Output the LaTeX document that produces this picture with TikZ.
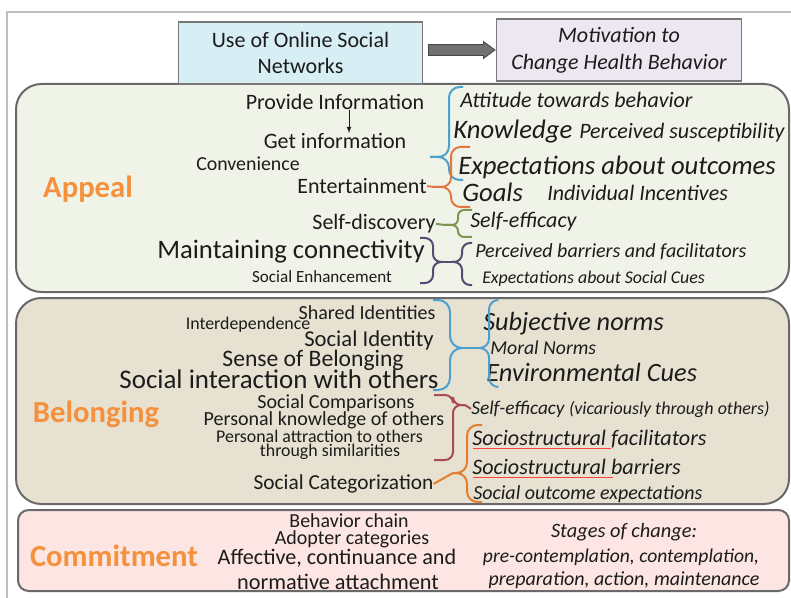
\documentclass[tikz,border=0pt]{standalone}
\usepackage{fontspec}
\setmainfont{Carlito}
\usetikzlibrary{calc}

\definecolor{ink}{RGB}{28,28,28}
\definecolor{tagorange}{RGB}{245,145,60}
\definecolor{edge}{RGB}{105,105,105}
\definecolor{boxedge}{RGB}{120,120,120}
\definecolor{framegray}{RGB}{190,190,190}
\definecolor{appealfill}{RGB}{240,243,231}
\definecolor{belongfill}{RGB}{231,225,210}
\definecolor{commitfill}{RGB}{252,229,226}
\definecolor{usefill}{RGB}{215,238,244}
\definecolor{motivfill}{RGB}{236,231,240}
\definecolor{arrowfill}{RGB}{112,112,112}
\definecolor{arrowedge}{RGB}{70,70,70}
\definecolor{bblue}{RGB}{75,160,205}
\definecolor{borange}{RGB}{225,120,65}
\definecolor{bgreen}{RGB}{125,150,85}
\definecolor{bpurple}{RGB}{85,75,115}
\definecolor{bmaroon}{RGB}{170,75,80}
\definecolor{bamber}{RGB}{228,125,45}

% curly brace: arm x, top y, bottom y, spine x, tip x, tip y, tip name
\newcommand{\curlybr}[8][]{%
  \coordinate (#8) at (#6,#7);
  \draw[#1] (#2,#3) -- (#5,#3) -- (#5,#7) -- (#8);
  \draw[#1] (#8) -- (#5,#7) -- (#5,#4) -- (#2,#4);}

\begin{document}
\begin{tikzpicture}[x=0.75pt,y=-0.75pt,
  txt/.style={inner sep=0pt,anchor=mid,yshift=-0.2*#1pt,text=ink,font=\fontsize{#1}{#1}\selectfont},
  cue/.style={inner sep=0pt,anchor=mid west,yshift=-0.2*#1pt,text=ink,font=\fontsize{#1}{#1}\selectfont\itshape},
  tag/.style={inner sep=0pt,anchor=mid,yshift=-4.5pt,text=tagorange,font=\fontsize{23}{23}\selectfont\bfseries},
  panel/.style={draw=edge,line width=1.5pt,rounded corners=#1},
  topbox/.style={draw=boxedge,line width=0.9pt,minimum width=183.5pt,minimum height=46.5pt,
    align=center,inner sep=0pt,text=ink},
  brc/.style={line width=1.5pt,rounded corners=#1}]
\useasboundingbox (0,0) rectangle (791,598);
\draw[framegray,line width=0.8pt] (7,598) -- (7,12) -- (791,12);

% bands
\draw[panel=19pt,fill=appealfill] (16,84) rectangle (789,292);
\draw[panel=19pt,fill=belongfill] (16,298) rectangle (789,504);
\draw[panel=8pt,fill=commitfill] (18,510) rectangle (789,591);

% header
\node[topbox,fill=usefill,font=\fontsize{16.5}{20}\selectfont] (use) at (300.5,53) {Use of Online Social\\Networks};
\node[topbox,fill=motivfill,font=\fontsize{16.5}{20}\selectfont\itshape] (motiv) at (619,50) {Motivation to\\Change Health Behavior};
\draw[draw=arrowedge,fill=arrowfill,line width=0.6pt]
  ($(use.east |- motiv.west)+(5,-5.5)$) -- ++(55,0) -- ++(0,-3)
  -- ($(motiv.west)+(-1,0)$) -- ($(use.east |- motiv.west)+(60,8.5)$) -- ++(0,-3)
  -- ($(use.east |- motiv.west)+(5,5.5)$) -- cycle;

\node[tag] (appeal) at (88,188) {Appeal};
\node[tag] (belong) at (96,413) {Belonging};
\node[tag] (commit) at (114,557) {Commitment};

% appeal
\node[txt=16.5] (provide) at (335,102) {Provide Information};
\node[txt=16.5] (getinfo) at (335,141) {Get information};
\node[txt=14.9] (conv) at (248,163) {Convenience};
\node[txt=16.5] (entertain) at (362,186) {Entertainment};
\node[txt=16.5] (selfdisc) at (374,222) {Self-discovery};
\node[txt=20] (maintain) at (291,250) {Maintaining connectivity};
\node[txt=12.8] (socenh) at (322,276) {Social Enhancement};
\draw[-latex,ink,line width=0.6pt] ($(provide.south)+(14,0)$) -- ($(getinfo.north)+(14,0)$);

\node[cue=16.5] (attitude) at (460,100) {Attitude towards behavior};
\node[cue=20] (knowledge) at (453,130) {Knowledge};
\node[cue=16.5] (suscept) at (579,131) {Perceived susceptibility};
\node[cue=20] (outcomes) at (458,166) {Expectations about outcomes};
\node[cue=20] (goals) at (462,193) {Goals};
\node[cue=16.5] (incent) at (547,193) {Individual Incentives};
\node[cue=16.5] (selfeff) at (470,220) {Self-efficacy};
\node[cue=15] (barrfac) at (475,250) {Perceived barriers and facilitators};
\node[cue=13.4] (soccues) at (482,277) {Expectations about Social Cues};

\curlybr[brc=8pt,bblue]{463}{87}{180}{449}{430}{157}{atip}
\curlybr[brc=7pt,borange]{470}{147}{207}{451}{434}{187}{otip}
\curlybr[brc=4.5pt,bgreen]{472}{210}{237}{458}{444}{225}{gtip}
\curlybr[brc=6pt,bpurple]{420}{238}{283}{433}{442}{262}{ptip}
\curlybr[brc=6pt,bpurple]{472}{243}{285}{462}{452}{262}{qtip}
\draw[brc=0pt,borange] (entertain.east) -- (otip);
\draw[brc=0pt,bgreen] (selfdisc.east) -- (gtip);
\draw[brc=0pt,bpurple] (ptip) -- (qtip);

% belonging
\node[txt=15] (shared) at (367,312) {Shared Identities};
\node[txt=13.4] (interdep) at (248,323) {Interdependence};
\node[txt=17] (socid) at (369,339) {Social Identity};
\node[txt=17.7] (sense) at (313,359) {Sense of Belonging};
\node[txt=20.2] (interact) at (279,380) {Social interaction with others};
\node[txt=15] (compar) at (336,401) {Social Comparisons};
\node[txt=15] (knowoth) at (324,418) {Personal knowledge of others};
\node[txt=13.4] (attract) at (319.5,436) {Personal attraction to others};
\node[txt=13.4] (simil) at (330,450) {through similarities};
\node[txt=16] (categ) at (343.5,482) {Social Categorization};

\node[cue=19.7] (subj) at (483,322) {Subjective norms};
\node[cue=14.8] (moral) at (490,347) {Moral Norms};
\node[cue=19.8] (envcues) at (486,373) {Environmental Cues};
\node[cue=14.5] (selfvic) at (471,407) {Self-efficacy {\fontsize{13.5}{13.5}\selectfont(vicariously through others)}};
\node[cue=16.6] (facil) at (472,438) {Sociostructural facilitators};
\node[cue=16.6] (barr) at (472,467) {Sociostructural barriers};
\node[cue=15] (socout) at (473,492) {Social outcome expectations};
\draw[red!75,line width=0.6pt] ($(facil.base west)+(1,3)$) -- ++(138,0);
\draw[red!75,line width=0.6pt] ($(barr.base west)+(1,3)$) -- ++(140,0);

\curlybr[brc=9pt,bblue]{433}{300}{390}{450}{462}{348}{btip}
\curlybr[brc=7pt,bblue]{497}{300}{387}{489}{479}{348}{ctip}
\curlybr[brc=6pt,bmaroon]{434}{395}{460}{453}{465}{405}{mtip}
\curlybr[brc=8pt,bamber]{482}{425}{502}{467}{453}{473}{stip}
\draw[brc=0pt,bblue] (btip) -- (ctip);
\draw[brc=0pt,bmaroon] (mtip) -- (selfvic.west);
\draw[brc=0pt,bamber] (categ.east) -- (stip);

% commitment
\node[txt=14.9] (chain) at (349,520) {Behavior chain};
\node[txt=15] (adopter) at (352,537) {Adopter categories};
\node[txt=16.6] (affect) at (337,557) {Affective, continuance and};
\node[txt=16.7] (normat) at (338,582) {normative attachment};
\node[txt=15.3,font=\fontsize{15.3}{15.3}\selectfont\itshape] (stages) at (624,530) {Stages of change:};
\node[txt=14.7,font=\fontsize{14.7}{14.7}\selectfont\itshape] (precont) at (621,555) {pre-contemplation, contemplation,};
\node[txt=15,font=\fontsize{15}{15}\selectfont\itshape] (prep) at (624,578) {preparation, action, maintenance};
\end{tikzpicture}
\end{document}
